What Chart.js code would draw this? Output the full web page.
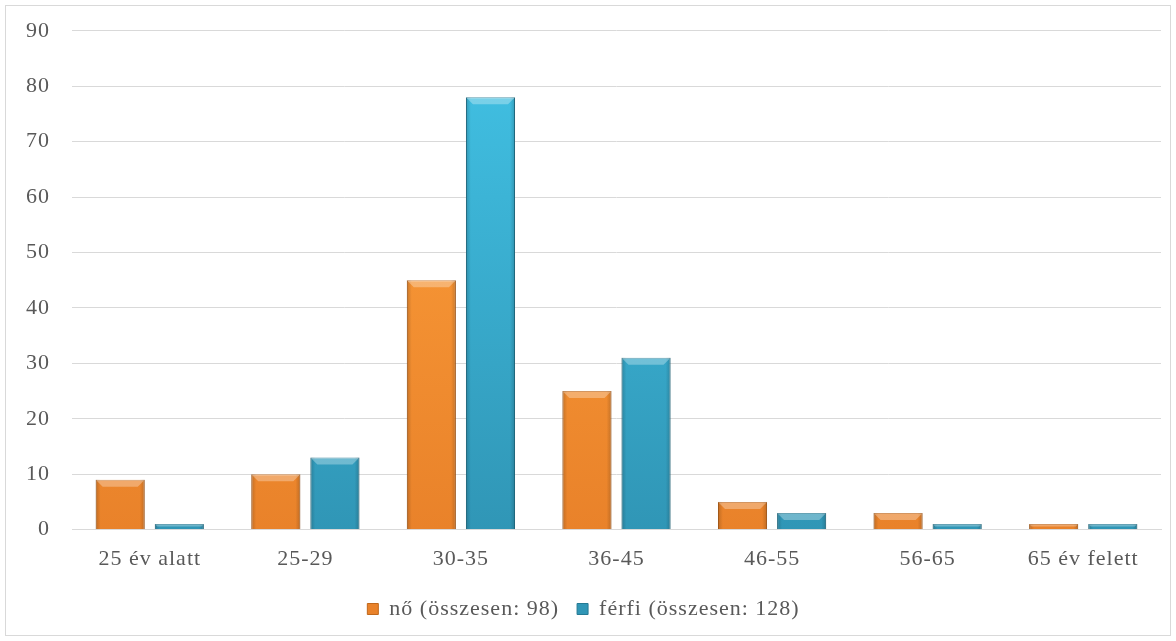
<!DOCTYPE html>
<html>
<head>
<meta charset="utf-8">
<script src="https://cdn.jsdelivr.net/npm/chart.js@4"></script>
<style>
  html, body { margin: 0; padding: 0; background: #fff; }
  #wrap { position: absolute; left: 5px; top: 5px; width: 1166px; height: 631px; border: 1px solid #d9d9d9; box-sizing: border-box; }
</style>
</head>
<body>
<div id="wrap"><canvas id="ageChart"></canvas></div>
<script>
const categories = ['25 év alatt', '25-29', '30-35', '36-45', '46-55', '56-65', '65 év felett'];
const womenValues = [9, 10, 45, 25, 5, 3, 1];
const menValues = [1, 13, 78, 31, 3, 1, 1];
const seriesLabels = ['nő (összesen: 98)', 'férfi (összesen: 128)'];

const palette = [
  { top: '#ffa23c', bottom: '#e9822a', edge: '#c0681c' },
  { top: '#42c3e6', bottom: '#3096b6', edge: '#257a94' }
];

// the serif text is set a little wider than normal
const spacingPlugin = {
  id: 'spacing',
  beforeUpdate(chart) { chart.ctx.letterSpacing = '1px'; },
  beforeDraw(chart) { chart.ctx.letterSpacing = '1px'; }
};

// shading on top of each bar: darker sides, lighter top bevel
const bevelPlugin = {
  id: 'bevel',
  afterDatasetsDraw(chart) {
    const ctx = chart.ctx;
    chart.data.datasets.forEach((ds, i) => {
      const meta = chart.getDatasetMeta(i);
      meta.data.forEach(bar => {
        const left = bar.x - bar.width / 2;
        const top = bar.y;
        const w = bar.width;
        const h = bar.base - bar.y;
        if (h <= 0) return;
        ctx.save();
        const g = ctx.createLinearGradient(left, 0, left + w, 0);
        g.addColorStop(0, 'rgba(0,0,0,0.18)');
        g.addColorStop(0.1, 'rgba(0,0,0,0)');
        g.addColorStop(0.9, 'rgba(0,0,0,0)');
        g.addColorStop(1, 'rgba(0,0,0,0.18)');
        ctx.fillStyle = g;
        ctx.fillRect(left, top, w, h);
        const bh = Math.min(7, h / 2);
        ctx.fillStyle = 'rgba(255,255,255,0.3)';
        ctx.beginPath();
        ctx.moveTo(left, top);
        ctx.lineTo(left + w, top);
        ctx.lineTo(left + w - bh, top + bh);
        ctx.lineTo(left + bh, top + bh);
        ctx.closePath();
        ctx.fill();
        ctx.restore();
      });
    });
  }
};

function barFill(idx) {
  return function(context) {
    const chart = context.chart;
    const area = chart.chartArea;
    if (!area) return palette[idx].top;
    const g = chart.ctx.createLinearGradient(0, area.top, 0, area.bottom);
    g.addColorStop(0, palette[idx].top);
    g.addColorStop(1, palette[idx].bottom);
    return g;
  };
}

Chart.defaults.font.family = '"Liberation Serif", "Times New Roman", serif';
Chart.defaults.font.size = 22;
Chart.defaults.color = '#595959';

new Chart(document.getElementById('ageChart'), {
  type: 'bar',
  data: {
    labels: categories,
    datasets: [
      {
        label: seriesLabels[0],
        data: womenValues,
        backgroundColor: barFill(0),
        borderColor: palette[0].edge,
        borderWidth: 1
      },
      {
        label: seriesLabels[1],
        data: menValues,
        backgroundColor: barFill(1),
        borderColor: palette[1].edge,
        borderWidth: 1
      }
    ]
  },
  options: {
    responsive: true,
    maintainAspectRatio: false,
    animation: false,
    categoryPercentage: 0.76,
    barPercentage: 0.83,
    layout: { padding: { left: 0, right: 9, top: 0, bottom: 5 } },
    scales: {
      x: {
        grid: { display: false },
        border: { color: '#d9d9d9' },
        ticks: { padding: 8, maxRotation: 0 }
      },
      y: {
        min: 0,
        max: 90,
        ticks: { stepSize: 10, padding: 22, font: { size: 22, lineHeight: 0.25 } },
        grid: { color: '#d9d9d9', drawTicks: false },
        border: { display: false },
        afterFit(scale) { scale.width = 66; }
      }
    },
    plugins: {
      legend: {
        position: 'bottom',
        labels: { boxWidth: 11, boxHeight: 11, padding: 18, color: '#595959' }
      },
      tooltip: { enabled: false }
    }
  },
  plugins: [spacingPlugin, bevelPlugin]
});
</script>
</body>
</html>
